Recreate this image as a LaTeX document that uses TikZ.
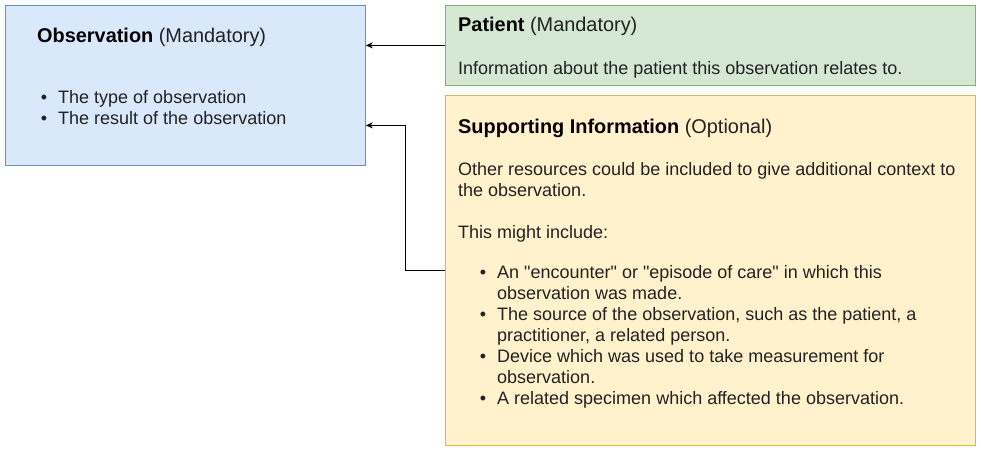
\documentclass[tikz,border=0pt]{standalone}
\usepackage{fontspec}
\setmainfont{Liberation Sans}[Ligatures=TeXOff]
\usetikzlibrary{positioning,arrows.meta}

\definecolor{obsfill}{HTML}{DAE8FC}
\definecolor{obsline}{HTML}{6C8EBF}
\definecolor{patfill}{HTML}{D5E8D4}
\definecolor{patline}{HTML}{82B366}
\definecolor{supfill}{HTML}{FFF2CC}
\definecolor{supline}{HTML}{D6B656}
\definecolor{bodytext}{HTML}{222222}

\newcommand{\bul}{\llap{\textbullet\hspace{11pt}}}

\begin{document}
\begin{tikzpicture}[
  x=1pt, y=-1pt,
  >={Stealth[length=7pt, width=6pt]},
  box/.style={rectangle, draw, line width=0.8pt, inner sep=0pt, anchor=north west},
  txt/.style={anchor=base west, inner sep=0pt, align=left, text=bodytext,
              font=\fontsize{18}{21}\selectfont},
  head/.style={txt, font=\fontsize{19.9}{23}\selectfont},
  arr/.style={->, line width=0.8pt}
]
  \useasboundingbox (0,0) rectangle (981,451);

  % boxes
  \node[box, fill=obsfill, draw=obsline, minimum width=360pt, minimum height=160pt] (obs) at (5,5) {};
  \node[box, fill=patfill, draw=patline, minimum width=530pt, minimum height=80pt] (pat) at (445,5) {};
  \node[box, fill=supfill, draw=supline, minimum width=530pt, minimum height=350pt] (sup) at (445,95) {};

  % texts (base = last line)
  \node[head] (obstitle) at (37,42) {\textbf{\color{black}Observation} (Mandatory)};
  \node[txt] (obslist) at (58,124) {\bul The type of observation\\
    \bul The result of the observation};

  \node[head] (pattitle) at (458,31) {\textbf{\color{black}Patient} (Mandatory)};
  \node[txt] (patbody) at (458,74) {Information about the patient this observation relates to.};

  \node[head] (suptitle) at (458,133) {\textbf{\color{black}Supporting Information} (Optional)};
  \node[txt] (supbody) at (458,196) {Other resources could be included to give additional context to\\
    the observation.};
  \node[txt] (supmight) at (458,238) {This might include:};
  \node[txt] (suplist) at (497,404) {\bul An "encounter" or "episode of care" in which this\\
    observation was made.\\
    \bul The source of the observation, such as the patient, a\\
    practitioner, a related person.\\
    \bul Device which was used to take measurement for\\
    observation.\\
    \bul A related specimen which affected the observation.};

  % links
  \draw[arr] (pat.west) -- (pat.west -| obs.east);
  \draw[arr] (sup.west) -- ++(-40,0) |- ([yshift=-40pt]obs.east);
\end{tikzpicture}
\end{document}
